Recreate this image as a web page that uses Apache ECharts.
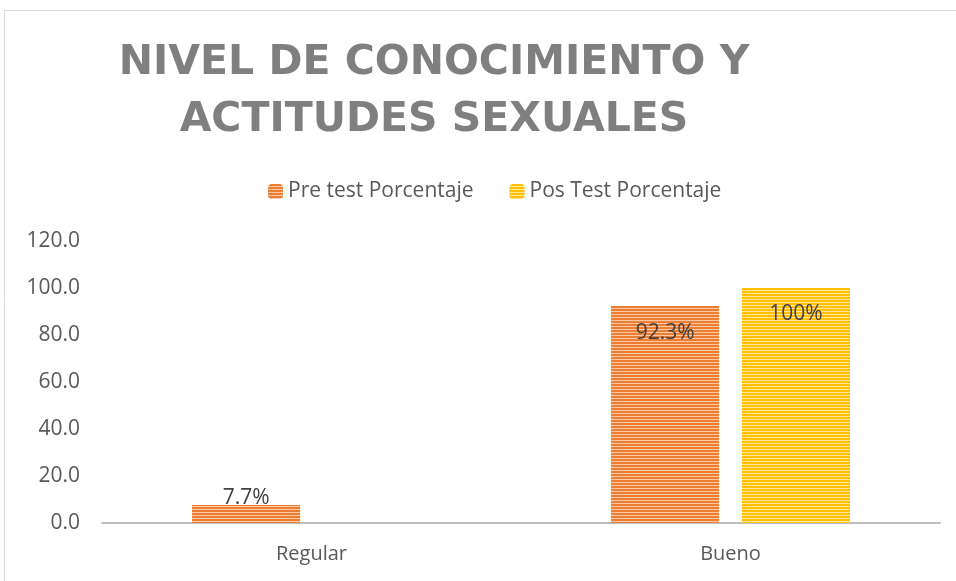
<!DOCTYPE html>
<html>
<head>
<meta charset="utf-8">
<script src="https://cdn.jsdelivr.net/npm/echarts@6/dist/echarts.min.js"></script>
<style>
    html, body { margin: 0; padding: 0; background: #fff; }
    #chart { width: 956px; height: 581px; }
</style>
</head>
<body>
<div id="chart"></div>
<script>
// datos del grafico
const categories = ['Regular', 'Bueno'];
const preTest = [7.7, 92.3];
const posTest = [0, 100];
const preLabels = ['7.7%', '92.3%'];
const posLabels = ['', '100%'];
const seriesNames = ['Pre test Porcentaje', 'Pos Test Porcentaje'];

// rayas horizontales como en Excel
function stripes(dark, light) {
    const c = document.createElement('canvas');
    c.width = 4;
    c.height = 3;
    const ctx = c.getContext('2d');
    ctx.fillStyle = light;
    ctx.fillRect(0, 0, 4, 3);
    ctx.fillStyle = dark;
    ctx.fillRect(0, 0, 4, 2);
    return { image: c, repeat: 'repeat' };
}

const orange = stripes('#ED7D31', '#F8C9A8');
const gold = stripes('#FFC000', '#FFE699');

function labelFor(texts, values, i) {
    if (!texts[i]) return { show: false };
    if (values[i] < 20) {
        return { show: true, position: 'top', distance: -4, formatter: texts[i] };
    }
    return { show: true, position: 'insideTop', distance: 16, formatter: texts[i] };
}

const myChart = echarts.init(document.getElementById('chart'));
const option = {
    animation: false,
    textStyle: { fontFamily: 'Open Sans' },
    graphic: [
        {
            type: 'rect',
            shape: { x: 4.5, y: 10.5, width: 1000, height: 1000 },
            style: { fill: 'none', stroke: '#D9D9D9', lineWidth: 1 },
        },
        {
            type: 'text',
            x: 434,
            y: 35,
            style: {
                text: 'NIVEL DE CONOCIMIENTO Y\nACTITUDES SEXUALES',
                fill: '#7F7F7F',
                font: 'bold 41px "DejaVu Sans"',
                align: 'center',
                lineHeight: 57,
            },
        },
    ],
    legend: {
        left: 263,
        top: 176,
        itemWidth: 15,
        itemHeight: 15,
        itemGap: 36,
        textStyle: { fontSize: 21, color: '#595959', fontFamily: 'Open Sans' },
        data: seriesNames,
    },
    grid: { left: 102, right: 16, top: 241, bottom: 58 },
    xAxis: {
        type: 'category',
        data: categories,
        axisLine: { lineStyle: { color: '#BFBFBF', width: 2 } },
        axisTick: { show: false },
        axisLabel: { fontSize: 20, color: '#595959', margin: 21 },
    },
    yAxis: {
        type: 'value',
        min: 0,
        max: 120,
        interval: 20,
        axisLine: { show: false },
        axisTick: { show: false },
        splitLine: { show: false },
        axisLabel: {
            fontSize: 21,
            color: '#595959',
            margin: 22,
            formatter: (v) => v.toFixed(1),
        },
    },
    series: [
        {
            name: seriesNames[0],
            type: 'bar',
            barWidth: '25.8%',
            barGap: '21%',
            itemStyle: { color: orange },
            label: { fontSize: 21, color: '#404040', fontFamily: 'Open Sans' },
            data: preTest.map((v, i) => ({ value: v, label: labelFor(preLabels, preTest, i) })),
        },
        {
            name: seriesNames[1],
            type: 'bar',
            barWidth: '25.8%',
            itemStyle: { color: gold },
            label: { fontSize: 21, color: '#404040', fontFamily: 'Open Sans' },
            data: posTest.map((v, i) => ({ value: v, label: labelFor(posLabels, posTest, i) })),
        },
    ],
};
myChart.setOption(option);
</script>
</body>
</html>
